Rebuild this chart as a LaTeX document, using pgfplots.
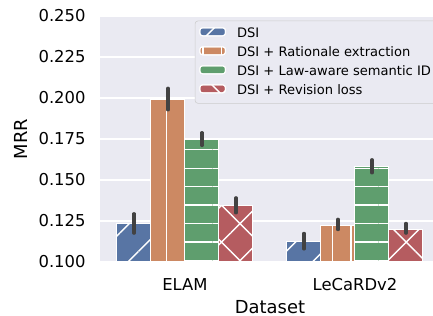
\documentclass[border=0pt]{standalone}
\usepackage{pgfplots}
\pgfplotsset{compat=1.18}
\usepackage{fontspec}
\setmainfont{DejaVu Sans}
\usetikzlibrary{patterns.meta}
\definecolor{bg}{HTML}{EAEAF2}
\definecolor{cblue}{HTML}{5875A4}
\definecolor{corange}{HTML}{CC8963}
\definecolor{cgreen}{HTML}{5F9E6E}
\definecolor{cred}{HTML}{B55C60}
\definecolor{errc}{HTML}{424242}
\definecolor{legedge}{HTML}{CCCCCC}
\begin{document}
\begin{tikzpicture}
\begin{axis}[
  name=ax,
  scale only axis,
  width=244.8pt, height=177.12pt,
  xmin=-0.5, xmax=1.5, ymin=0.1, ymax=0.25,
  ybar=0pt, bar width=0.2,
  axis background/.style={fill=bg},
  axis line style={draw=none},
  major tick length=0pt,
  ymajorgrids, grid style={white, line width=0.9pt},
  xtick={0,1}, xticklabels={ELAM, LeCaRDv2},
  ytick={0.1,0.125,0.15,0.175,0.2,0.225,0.25},
  yticklabel style={/pgf/number format/fixed, /pgf/number format/fixed zerofill, /pgf/number format/precision=3, /pgf/number format/assume math mode=true},
  tick label style={font=\fontsize{11.8}{14}\selectfont},
  every y tick label/.append style={xshift=-6.9pt},
  every x tick label/.append style={yshift=-8.3pt},
  xlabel={Dataset}, ylabel={MRR},
  label style={font=\fontsize{12.9}{15}\selectfont},
  xlabel style={at={(axis description cs:0.5,-0.182)}, anchor=center},
  ylabel style={at={(axis description cs:-0.231,0.5)}, anchor=center},
  legend style={at={(axis description cs:0.279,0.981)}, anchor=north west, fill=bg, draw=legedge, rounded corners=2pt,
    font=\fontsize{9.4}{11}\selectfont, inner xsep=3pt, inner ysep=3.6pt, row sep=2.7pt,
    nodes={inner sep=1pt, text height=7pt, text depth=2pt},
    /tikz/every odd column/.append style={column sep=7pt}},
  legend cell align=left,
  legend image code/.code={\draw[#1] (0pt,-1.6pt) rectangle (18.5pt,4.2pt);},
  every axis plot/.append style={draw=white, line width=0.72pt},
]
\addplot[fill=cblue, postaction={pattern={Lines[angle=45, distance=18.8pt, line width=1pt]}, pattern color=white},
  error bars/.cd, y dir=both, y explicit, error mark=none, error bar style={line width=2.2pt, errc, line cap=round}]
  coordinates {(0,0.1232) += (0,0.0063) -= (0,0.0057)
               (1,0.1124) += (0,0.0051) -= (0,0.0045)};
\addplot[fill=corange, postaction={pattern={Lines[angle=90, distance=13.3pt, line width=1pt]}, pattern color=white},
  error bars/.cd, y dir=both, y explicit, error mark=none, error bar style={line width=2.2pt, errc, line cap=round}]
  coordinates {(0,0.1993) += (0,0.0067) -= (0,0.0066)
               (1,0.1221) += (0,0.0040) -= (0,0.0024)};
\addplot[fill=cgreen, postaction={pattern={Lines[angle=0, distance=13.3pt, line width=1pt]}, pattern color=white},
  error bars/.cd, y dir=both, y explicit, error mark=none, error bar style={line width=2.2pt, errc, line cap=round}]
  coordinates {(0,0.1746) += (0,0.0043) -= (0,0.0036)
               (1,0.1581) += (0,0.0043) -= (0,0.0038)};
\addplot[fill=cred, postaction={pattern={Hatch[angle=45, distance=18.8pt, line width=1pt]}, pattern color=white},
  error bars/.cd, y dir=both, y explicit, error mark=none, error bar style={line width=2.2pt, errc, line cap=round}]
  coordinates {(0,0.1342) += (0,0.0050) -= (0,0.0043)
               (1,0.1201) += (0,0.0035) -= (0,0.0026)};
\legend{DSI, DSI + Rationale extraction, DSI + Law-aware semantic ID, DSI + Revision loss}
\end{axis}
\pgfresetboundingbox
\path[use as bounding box] ([xshift=-72pt,yshift=-38.88pt]ax.south west) rectangle ([xshift=-5.04pt,yshift=11.52pt]ax.north east);
\end{tikzpicture}
\end{document}
